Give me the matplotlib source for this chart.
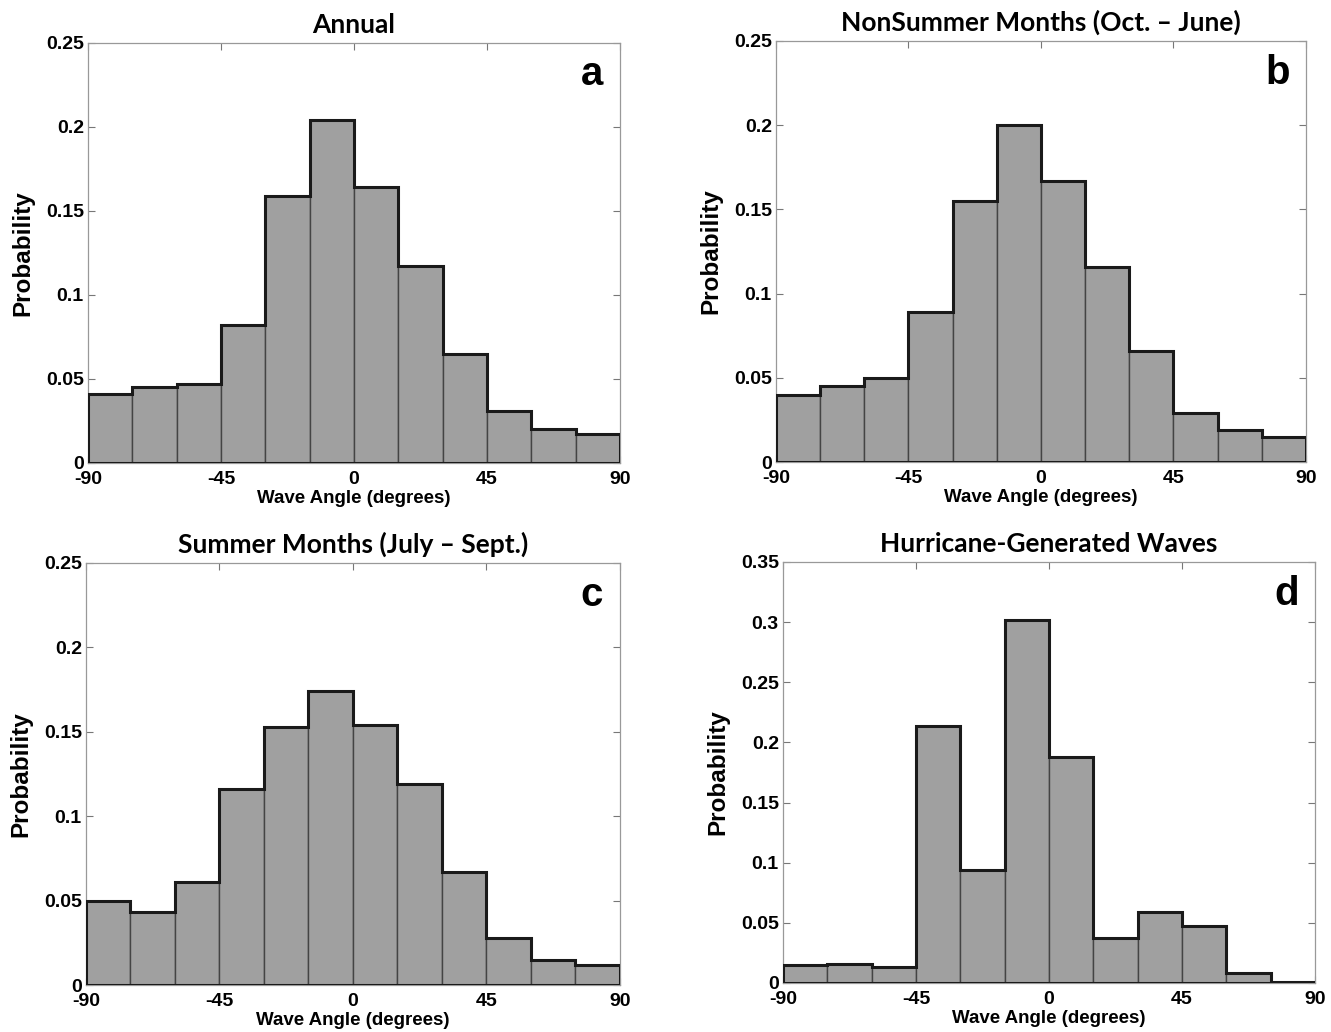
import numpy as np
from matplotlib import pyplot as plt

plt.rcParams['axes.unicode_minus'] = False

edges = np.arange(-90, 91, 15)

annual = [0.041, 0.045, 0.047, 0.082, 0.159, 0.204, 0.164, 0.117, 0.065, 0.031, 0.020, 0.017]
nonsummer = [0.040, 0.045, 0.050, 0.089, 0.155, 0.200, 0.167, 0.116, 0.066, 0.029, 0.019, 0.015]
summer = [0.050, 0.043, 0.061, 0.116, 0.153, 0.174, 0.154, 0.119, 0.067, 0.028, 0.015, 0.012]
hurricane = [0.015, 0.016, 0.013, 0.214, 0.094, 0.302, 0.188, 0.037, 0.059, 0.047, 0.008, 0.001]

titles = ['Annual', 'NonSummer Months (Oct. \u2013 June)',
          'Summer Months (July \u2013 Sept.)', 'Hurricane-Generated Waves']
letters = ['a', 'b', 'c', 'd']
ymaxes = [0.25, 0.25, 0.25, 0.35]
series = [annual, nonsummer, summer, hurricane]

# axes rectangles in figure fractions
rects = [
    [0.0661, 0.5514, 0.3997, 0.4070],
    [0.5830, 0.5523, 0.3982, 0.4080],
    [0.0646, 0.0455, 0.4012, 0.4090],
    [0.5883, 0.0475, 0.3997, 0.4080],
]

arial = ['Liberation Sans', 'DejaVu Sans']
title_font = ['Lato', 'DejaVu Sans']

fig = plt.figure(figsize=(13.31, 10.32), dpi=100)

for rect, vals, title, letter, ymax in zip(rects, series, titles, letters, ymaxes):
    ax = fig.add_axes(rect)
    ax.bar(edges[:-1], vals, width=15, align='edge', color='#a0a0a0',
           edgecolor='#444444', linewidth=1.0, zorder=2)
    # thick outer outline of the histogram
    ax.stairs(vals, edges, color='#1a1a1a', linewidth=2.2, baseline=0,
              fill=False, zorder=3)
    ax.plot([-90, 90], [0, 0], color='#1a1a1a', linewidth=2.2, zorder=3)

    ax.set_xlim(-90, 90)
    ax.set_ylim(0, ymax)
    yt = np.arange(0, ymax + 0.001, 0.05)
    ax.set_xticks([-90, -45, 0, 45, 90])
    ax.set_yticks(yt)
    ax.set_yticklabels(['0' if v == 0 else f'{v:.2f}'.rstrip('0') for v in yt])
    ax.tick_params(direction='in', top=True, right=True, length=5, width=0.8,
                   color='#777777')
    ax.tick_params(axis='x', pad=6)
    ax.tick_params(axis='y', pad=3)
    for lab in ax.get_xticklabels() + ax.get_yticklabels():
        lab.set_family(arial)
        lab.set_fontweight('bold')
        lab.set_fontsize(14)
    for s in ax.spines.values():
        s.set_color('#999999')
        s.set_linewidth(0.9)

    ax.set_xlabel('Wave Angle (degrees)', family=arial, fontweight='bold',
                  fontsize=13.5, labelpad=1)
    ax.set_ylabel('Probability', family=arial, fontweight='bold',
                  fontsize=17.5, labelpad=8)
    ax.set_title(title, family=title_font, fontweight='bold', fontsize=19, pad=7)
    ax.text(0.947, 0.925, letter, transform=ax.transAxes, ha='center', va='center',
            family=arial, fontweight='bold', fontsize=29)

fig.savefig('out.png', dpi=100)
